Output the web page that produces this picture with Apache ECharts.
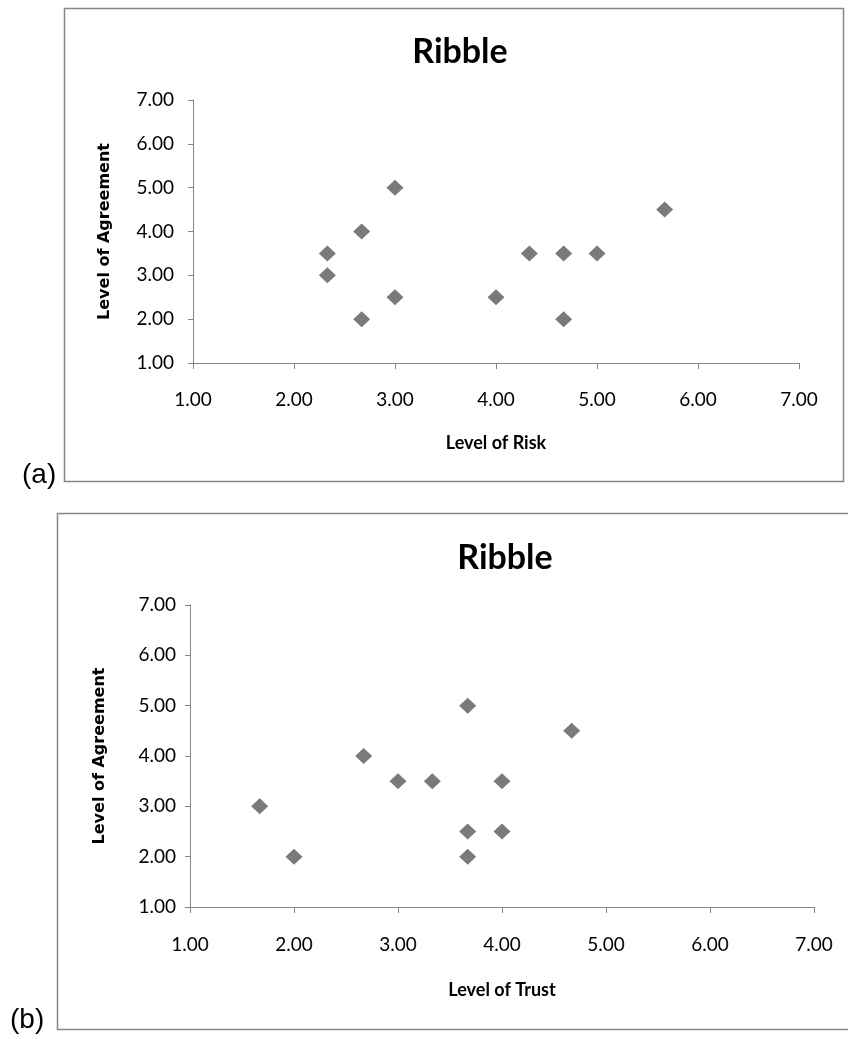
<!DOCTYPE html>
<html>
<head>
<meta charset="utf-8">
<script src="https://cdn.jsdelivr.net/npm/echarts@6/dist/echarts.min.js"></script>
<style>
  html, body { margin: 0; padding: 0; background: #ffffff; }
  #chart { width: 848px; height: 1039px; }
</style>
</head>
<body>
<div id="chart"></div>
<script>
// Panel (a): level of risk against level of agreement
const riskLevel      = [2.33, 2.33, 2.67, 2.67, 3.00, 3.00, 4.00, 4.33, 4.67, 4.67, 5.00, 5.67];
const riskAgreement  = [3.50, 3.00, 4.00, 2.00, 5.00, 2.50, 2.50, 3.50, 3.50, 2.00, 3.50, 4.50];

// Panel (b): level of trust against level of agreement
const trustLevel     = [1.67, 2.00, 2.67, 3.00, 3.33, 3.67, 3.67, 3.67, 4.00, 4.00, 4.67];
const trustAgreement = [3.00, 2.00, 4.00, 3.50, 3.50, 5.00, 2.50, 2.00, 3.50, 2.50, 4.50];

// Shared scale for both axes of both panels
const axisMin = 1;
const axisMax = 7;
const axisStep = 1;

const panelTitles = ['Ribble', 'Ribble'];
const panelTags = ['(a)', '(b)'];
const xNames = ['Level of Risk', 'Level of Trust'];
const yName = 'Level of Agreement';

const AXIS_GREY = '#868686';
const MARK_GREY = '#595959';
const LABEL_FONT = 'Lato, "Open Sans", sans-serif';

function pairs(xs, ys) {
  return xs.map((x, i) => [x, ys[i]]);
}

function tickLabel(margin) {
  return {
    color: '#000000',
    fontFamily: LABEL_FONT,
    fontSize: 19,
    margin: margin,
    formatter: v => v.toFixed(2)
  };
}

function valueAxis(gridIndex, extra) {
  return Object.assign({
    type: 'value',
    gridIndex: gridIndex,
    min: axisMin,
    max: axisMax,
    interval: axisStep,
    splitLine: { show: false },
    axisLine: { show: true, onZero: false, lineStyle: { color: AXIS_GREY, width: 1 } },
    axisTick: { show: true, inside: false, length: 6, lineStyle: { color: AXIS_GREY, width: 1 } },
    nameLocation: 'middle'
  }, extra);
}

const xNameStyle = { fontFamily: LABEL_FONT, fontWeight: 'bold', fontSize: 18, color: '#000' };
const yNameStyle = { fontFamily: '"DejaVu Sans", sans-serif', fontWeight: 'bold', fontSize: 16, color: '#000' };
const yTick = { show: true, length: 5, lineStyle: { color: AXIS_GREY, width: 1 } };

const chart = echarts.init(document.getElementById('chart'), null, { renderer: 'canvas' });

chart.setOption({
  animation: false,
  backgroundColor: '#ffffff',
  title: [
    {
      text: panelTitles[0], left: 455, top: 30, textAlign: 'center',
      textStyle: { fontFamily: LABEL_FONT, fontWeight: 'bold', fontSize: 34, color: '#000' }
    },
    {
      text: panelTitles[1], left: 500, top: 536, textAlign: 'center',
      textStyle: { fontFamily: LABEL_FONT, fontWeight: 'bold', fontSize: 34, color: '#000' }
    }
  ],
  grid: [
    { left: 193, top: 100, width: 606, height: 263 },
    { left: 190, top: 605, width: 624, height: 302 }
  ],
  xAxis: [
    valueAxis(0, { name: xNames[0], nameGap: 71, axisLabel: tickLabel(27), nameTextStyle: xNameStyle }),
    valueAxis(1, { name: xNames[1], nameGap: 74, axisLabel: tickLabel(28), nameTextStyle: xNameStyle })
  ],
  yAxis: [
    valueAxis(0, { name: yName, nameGap: 80, axisTick: yTick, axisLabel: tickLabel(19), nameTextStyle: yNameStyle }),
    valueAxis(1, { name: yName, nameGap: 82, axisTick: yTick, axisLabel: tickLabel(14), nameTextStyle: yNameStyle })
  ],
  series: [
    {
      type: 'scatter', xAxisIndex: 0, yAxisIndex: 0,
      symbol: 'diamond', symbolSize: [17, 16],
      itemStyle: { color: MARK_GREY },
      data: pairs(riskLevel, riskAgreement)
    },
    {
      type: 'scatter', xAxisIndex: 1, yAxisIndex: 1,
      symbol: 'diamond', symbolSize: [17, 16],
      itemStyle: { color: MARK_GREY },
      data: pairs(trustLevel, trustAgreement)
    }
  ],
  graphic: [
    // chart-area frames
    {
      type: 'rect', silent: true, z: -1,
      shape: { x: 64.5, y: 8.5, width: 779, height: 473 },
      style: { fill: 'none', stroke: AXIS_GREY, lineWidth: 1.5 }
    },
    {
      type: 'rect', silent: true, z: -1,
      shape: { x: 57.5, y: 513.5, width: 820, height: 516 },
      style: { fill: 'none', stroke: AXIS_GREY, lineWidth: 1.5 }
    },
    // panel tags
    {
      type: 'text', silent: true,
      style: {
        text: panelTags[0], x: 22, y: 475, textVerticalAlign: 'middle',
        font: '28px "Liberation Sans", Arial, sans-serif', fill: '#000'
      }
    },
    {
      type: 'text', silent: true,
      style: {
        text: panelTags[1], x: 10, y: 1020, textVerticalAlign: 'middle',
        font: '28px "Liberation Sans", Arial, sans-serif', fill: '#000'
      }
    }
  ]
});
</script>
</body>
</html>
